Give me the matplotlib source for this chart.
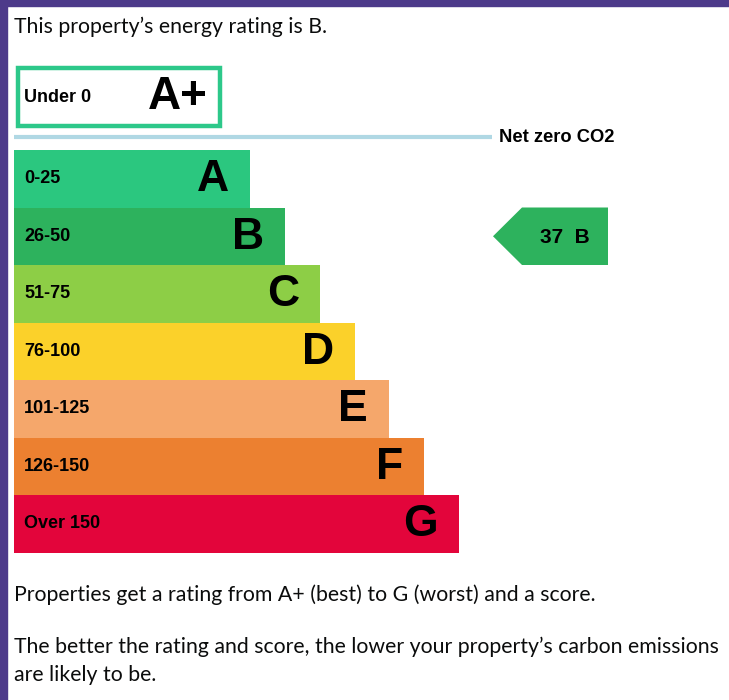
import matplotlib.pyplot as plt
from matplotlib.patches import Rectangle, Polygon

# rating bands
bands = ["A", "B", "C", "D", "E", "F", "G"]
ranges = ["0-25", "26-50", "51-75", "76-100", "101-125", "126-150", "Over 150"]
bar_len = [236, 271, 306, 341, 375, 410, 445]
colors = ["#2bc77f", "#2db25d", "#8dce46", "#fbd12a", "#f5a76b", "#ec8030", "#e3053b"]

top_band = "A+"
top_range = "Under 0"
score = 37
rating = "B"

title = "This property\u2019s energy rating is B."
notes = ["Properties get a rating from A+ (best) to G (worst) and a score.",
         "The better the rating and score, the lower your property\u2019s carbon emissions\nare likely to be."]

W, H = 729, 700
fig = plt.figure(figsize=(W / 100, H / 100), dpi=100)
ax = fig.add_axes([0, 0, 1, 1])
ax.set_xlim(0, W)
ax.set_ylim(H, 0)
ax.axis("off")

purple = "#4d3a8a"
ax.add_patch(Rectangle((0, 0), 7, H, color=purple))
ax.add_patch(Rectangle((0, 0), W, 5.5, color=purple))

body = ["Lato", "DejaVu Sans"]
head = ["Liberation Sans", "DejaVu Sans"]

ax.text(14, 27, title, fontsize=15.3, family=body, color="#0b0c0c", va="center")

# A+ box
ax.add_patch(Rectangle((18, 68), 202, 58, fill=False, ec="#2dc88a", lw=3.2))
ax.text(24, 97, top_range, fontsize=13, family=head, weight="bold", va="center")
ax.text(148, 97, top_band, fontsize=33, family=head, weight="bold", va="center")

# net zero line
ax.plot([14, 492], [137, 137], color="#b0d8e4", lw=3, solid_capstyle="butt")
ax.text(499, 137, "Net zero CO2", fontsize=13.2, family=head, weight="bold", va="center")

y0, h = 150, 57.5
for i, (b, r, L, c) in enumerate(zip(bands, ranges, bar_len, colors)):
    y = y0 + i * h
    ax.add_patch(Rectangle((14, y), L, h, color=c, lw=0))
    ax.text(24, y + h / 2, r, fontsize=13, family=head, weight="bold", va="center")
    ax.text(14 + L - 21, y + h / 2 + 1, b, fontsize=32, family=head, weight="bold",
            va="center", ha="right")

# current rating arrow
i = bands.index(rating)
y = y0 + i * h
ax.add_patch(Polygon([(493, y + h / 2), (522, y), (608, y), (608, y + h), (522, y + h)],
                     closed=True, color=colors[i], lw=0))
ax.text(540, y + h / 2 + 1, f"{score}  {rating}", fontsize=15, family=head, weight="bold",
        va="center")

ax.text(14, 595, notes[0], fontsize=15.3, family=body, color="#0b0c0c", va="center")
ax.text(14, 661, notes[1], fontsize=15.3, family=body, color="#0b0c0c", va="center",
        linespacing=1.47)

fig.savefig("out.png", dpi=100)
